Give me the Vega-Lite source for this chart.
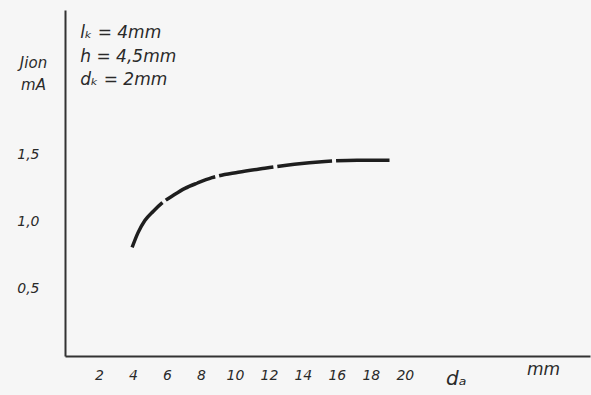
{
  "$schema": "https://vega.github.io/schema/vega-lite/v6.json",
  "width": 525,
  "height": 346,
  "autosize": {"type": "none"},
  "padding": {"left": 65, "top": 10, "right": 1, "bottom": 39},
  "background": "#f6f6f6",
  "config": {
    "view": {"stroke": null},
    "font": "DejaVu Sans",
    "axis": {"labelFont": "DejaVu Sans", "labelFontStyle": "italic", "titleFontStyle": "italic", "titleFont": "DejaVu Sans", "titleFontWeight": "normal", "labelColor": "#2a2a2a", "titleColor": "#2a2a2a", "domainColor": "#333", "domainWidth": 2, "ticks": false, "grid": false}
  },
  "datasets": {
    "curve": [
      {"d_a": 3.95, "I": 0.81},
      {"d_a": 4.3, "I": 0.92},
      {"d_a": 4.7, "I": 1.01},
      {"d_a": 5.2, "I": 1.08},
      {"d_a": 5.7, "I": 1.14},
      {"d_a": 6.4, "I": 1.2},
      {"d_a": 7.06, "I": 1.25},
      {"d_a": 7.8, "I": 1.29},
      {"d_a": 8.65, "I": 1.33},
      {"d_a": 10.2, "I": 1.37},
      {"d_a": 11.76, "I": 1.4},
      {"d_a": 13.5, "I": 1.43},
      {"d_a": 15.3, "I": 1.45},
      {"d_a": 17.2, "I": 1.46},
      {"d_a": 19.1, "I": 1.46}
    ],
    "notes": [
      {"t": "lₖ = 4mm", "d_a": 0.9, "I": 2.41},
      {"t": "h  = 4,5mm", "d_a": 0.9, "I": 2.23},
      {"t": "dₖ = 2mm", "d_a": 0.9, "I": 2.06}
    ]
  },
  "layer": [
    {
      "data": {"name": "curve"},
      "mark": {"type": "line", "interpolate": "monotone", "color": "#1e1e1e", "strokeWidth": 3.5, "strokeDash": [55, 4]},
      "encoding": {
        "x": {"field": "d_a", "type": "quantitative", "scale": {"domain": [0, 30.9], "nice": false, "zero": false},
          "axis": {"values": [2, 4, 6, 8, 10, 12, 14, 16, 18, 20, 23], "labelExpr": "datum.value == 23 ? 'dₐ' : datum.label", "labelFontSize": {"condition": {"test": "datum.value == 23", "value": 20}, "value": 14}, "labelPadding": 12, "title": "mm", "titleFontSize": 17, "titleAngle": 0, "titleX": 478, "titleY": 22, "titleAlign": "center", "titleBaseline": "bottom"}},
        "y": {"field": "I", "type": "quantitative", "scale": {"domain": [0, 2.58], "nice": false},
          "axis": {"values": [0.5, 1.0, 1.5], "labelExpr": "replace(format(datum.value, '.1f'), '.', ',')", "labelFontSize": 14, "labelPadding": 26, "title": ["Jion", "mA"], "titleFontSize": 15, "titleAngle": 0, "titleX": -32, "titleY": 52, "titleAlign": "center", "titleLineHeight": 22, "titleBaseline": "middle"}}
      }
    },
    {
      "data": {"name": "notes"},
      "mark": {"type": "text", "align": "left", "baseline": "middle", "fontSize": 17, "fontStyle": "italic", "color": "#2a2a2a"},
      "encoding": {
        "x": {"field": "d_a", "type": "quantitative"},
        "y": {"field": "I", "type": "quantitative"},
        "text": {"field": "t"}
      }
    }
  ]
}
